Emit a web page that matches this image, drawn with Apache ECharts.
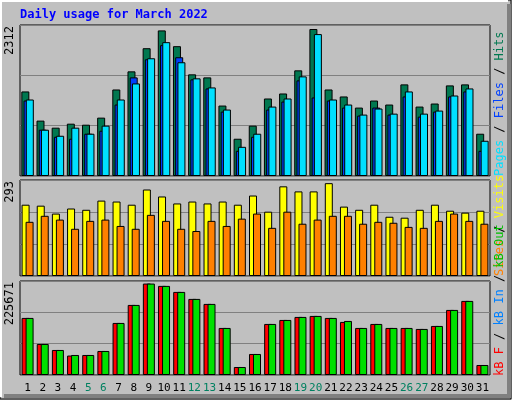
<!DOCTYPE html>
<html><head><meta charset="utf-8">
<script src="https://cdn.jsdelivr.net/npm/echarts@6/dist/echarts.min.js"></script>
<style>html,body{margin:0;padding:0;background:#c0c0c0}#c{width:512px;height:400px}</style>
</head><body><div id="c"></div>
<script>
const days = ['1','2','3','4','5','6','7','8','9','10','11','12','13','14','15','16','17','18','19','20','21','22','23','24','25','26','27','28','29','30','31'];
const weekendDays = ['5','6','12','13','19','20','26','27'];
const hits  = [1330,871,760,823,807,918,1361,1646,2010,2290,2042,1599,1551,1108,586,792,1219,1298,1662,2312,1361,1251,1076,1187,1124,1441,1092,1140,1425,1441,665];
const files = [1187,728,617,586,665,712,1124,1551,1836,2058,1868,1520,1377,1013,396,617,1045,1171,1504,1235,1187,1076,950,1076,966,1251,934,1013,1251,1330,396];
const pages = [1203,728,633,760,665,792,1203,1456,1852,2105,1789,1536,1393,1045,459,665,1092,1219,1567,2232,1203,1124,966,1061,981,1330,981,1029,1266,1377,554];
const visits = [225,222,197,213,209,238,235,225,273,251,229,235,229,235,225,254,203,283,267,267,293,219,209,225,187,184,209,225,206,200,206];
const sites  = [171,190,178,149,174,178,158,149,193,174,149,142,174,158,181,197,152,203,165,178,190,190,165,171,168,155,152,174,197,174,165];
const kbF   = [140836,76595,61770,48000,49416,59299,128482,172956,225671,219901,205076,187781,175427,116128,19766,51887,126011,135894,143306,145777,140836,131000,116128,126011,116128,116128,113657,121069,160602,182839,24708];
const kbOut = [140836,76595,61770,49416,49416,59299,128482,172956,225671,219901,205076,187781,175427,116128,19766,51887,126011,135894,143306,145777,140836,133423,116128,126011,116128,116128,113657,121069,160602,182839,24708];
const topMax = 2375, midMax = 303, botMax = 232000;
const maxLabels = ['2312','293','225671'];

const chart = echarts.init(document.getElementById('c'));
const grids = [{left:20,right:22,top:25,height:151},{left:20,right:22,top:180,height:96},{left:20,right:22,top:281,height:94}];
const mkX = (i,show)=>({type:'category',gridIndex:i,data:days,axisTick:{show:false},axisLine:{show:false},
  axisLabel:{show:show,interval:0,margin:8,fontFamily:'DejaVu Sans Mono',fontSize:11,
    color:(v)=>weekendDays.includes(v)?'#008060':'#000000'}});
const mkY = (i,max)=>({type:'value',gridIndex:i,min:0,max:max,interval:max/3,axisLabel:{show:false},axisLine:{show:false},axisTick:{show:false},
  splitLine:{lineStyle:{color:'#808080',width:1}}});
const bs = {borderColor:'#000',borderWidth:1};
const bar = (name,data,i,color,gap)=>({name,type:'bar',xAxisIndex:i,yAxisIndex:i,data,barWidth:8,barGap:gap,itemStyle:Object.assign({color},bs),animation:false});
const ff='DejaVu Sans Mono';
const vtext=(x,y,rich,parts)=>({type:'text',x,y,rotation:Math.PI/2,style:{text:parts,rich,align:'left',verticalAlign:'middle',font:'11px '+ff}});
chart.setOption({
  backgroundColor:'#c0c0c0',
  grid:grids.map(g=>Object.assign({show:true,borderColor:'#000',borderWidth:1,backgroundColor:'transparent'},g)),
  xAxis:[mkX(0,false),mkX(1,false),mkX(2,true)],
  yAxis:[mkY(0,topMax),mkY(1,midMax),mkY(2,botMax)],
  series:[
    bar('Hits',hits,0,'#007850','-72%'),
    bar('Files',files,0,'#0040ff','-72%'),
    bar('Pages',pages,0,'#00e0ff','-72%'),
    bar('Visits',visits,1,'#ffff00','-50%'),
    bar('Sites',sites,1,'#ff8000','-50%'),
    bar('kB F',kbF,2,'#ff0000','-50%'),
    bar('kB Out',kbOut,2,'#00e000','-50%')
  ],
  graphic:[
    {type:'rect',shape:{x:0,y:0,width:511,height:399},style:{fill:'none',stroke:'#000',lineWidth:1},z:-1},
    {type:'polyline',shape:{points:[[1,397],[1,1],[508,1]]},style:{stroke:'#fff',lineWidth:2,fill:'none'}},
    {type:'polyline',shape:{points:[[509,4],[509,396],[4,396]]},style:{stroke:'#808080',lineWidth:4,fill:'none'}},
    {type:'text',x:20,y:15,style:{text:'Daily usage for March 2022',font:'bold 12px '+ff,fill:'#0000ff',verticalAlign:'middle'}},
    {type:'text',x:10,y:26,rotation:Math.PI/2,style:{text:maxLabels[0],font:'12px '+ff,fill:'#000',align:'right',verticalAlign:'middle'}},
    {type:'text',x:10,y:181,rotation:Math.PI/2,style:{text:maxLabels[1],font:'12px '+ff,fill:'#000',align:'right',verticalAlign:'middle'}},
    {type:'text',x:10,y:282,rotation:Math.PI/2,style:{text:maxLabels[2],font:'12px '+ff,fill:'#000',align:'right',verticalAlign:'middle'}},
    vtext(500,176,{p:{fill:'#00e0ff',font:'12px '+ff},s:{fill:'#000',font:'12px '+ff},f:{fill:'#0040ff',font:'12px '+ff},h:{fill:'#007850',font:'12px '+ff}},'{p|Pages}{s| / }{f|Files}{s| / }{h|Hits}'),
    vtext(500,276,{st:{fill:'#ff8000',font:'12px '+ff},s:{fill:'#000',font:'12px '+ff},v:{fill:'#ffff00',font:'12px '+ff}},'{st|Sites}{s| / }{v|Visits}'),
    vtext(500,376,{r:{fill:'#ff0000',font:'12px '+ff},s:{fill:'#000',font:'12px '+ff},b:{fill:'#0080ff',font:'12px '+ff},g:{fill:'#00c000',font:'12px '+ff}},'{r|kB F}{s| / }{b|kB In}{s| / }{g|kB Out}')
  ]
});
</script></body></html>
